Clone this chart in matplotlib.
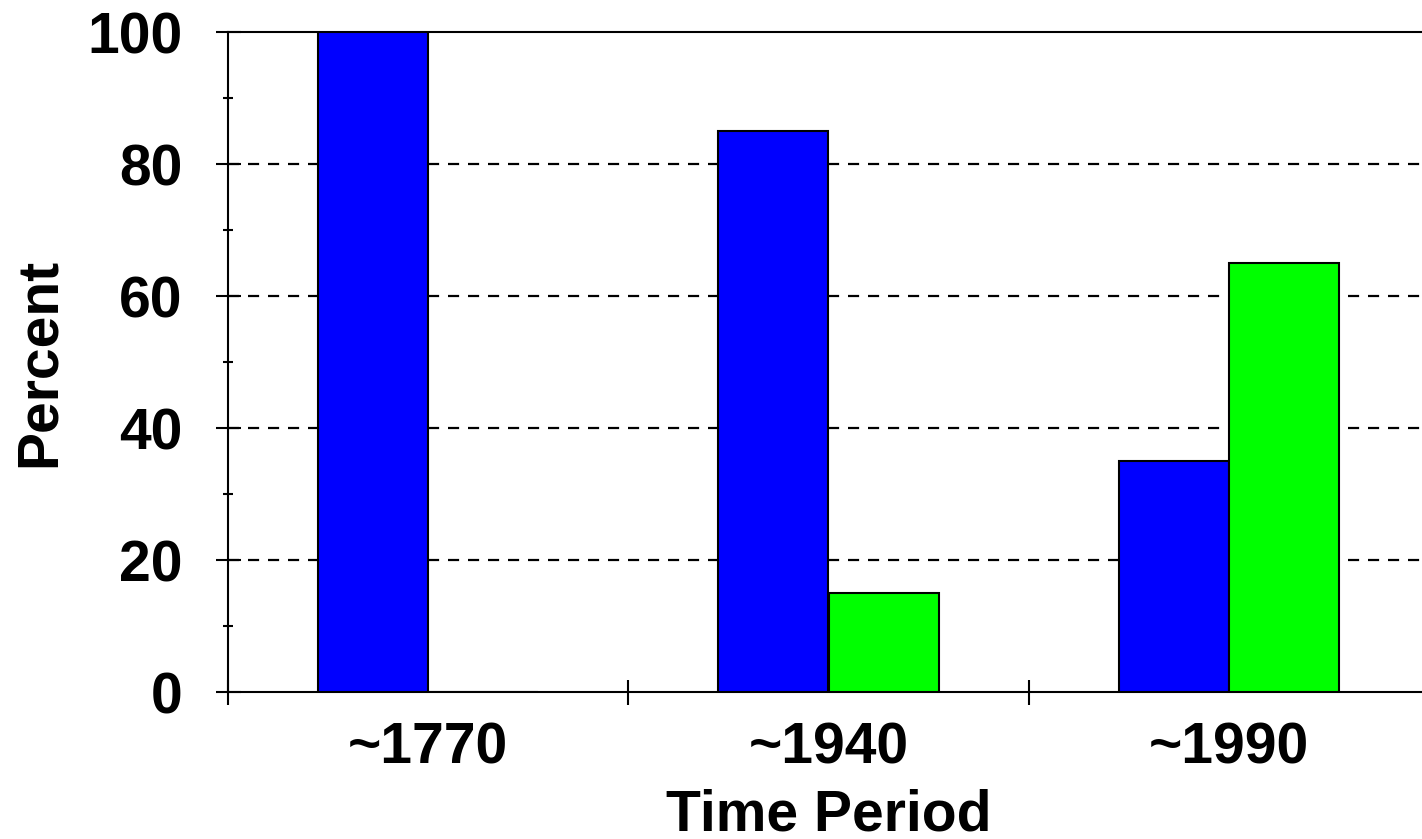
import matplotlib
matplotlib.use("Agg")
import matplotlib.pyplot as plt
import numpy as np
from matplotlib.ticker import MultipleLocator, FixedLocator

# data
periods = ["~1770", "~1940", "~1990"]
blue_vals = [100, 85, 35]
green_vals = [0, 15, 65]

plt.rcParams["font.family"] = ["Liberation Sans", "DejaVu Sans"]
plt.rcParams["font.weight"] = "bold"

fig = plt.figure(figsize=(14.22, 8.39), dpi=100)
ax = fig.add_axes([228 / 1422, 147 / 839, 1201 / 1422, 660 / 839])

x = np.arange(len(periods))
w = 0.275
ax.bar(x - w / 2, blue_vals, w, color="#0000ff", edgecolor="black", linewidth=1.5, zorder=3)
ax.bar(x + w / 2, green_vals, w, color="#00ff00", edgecolor="black", linewidth=1.5, zorder=3)

ax.set_xlim(-0.5, 2.5)
ax.set_ylim(0, 100)

# y axis ticks
ax.yaxis.set_major_locator(MultipleLocator(20))
ax.yaxis.set_minor_locator(MultipleLocator(10))
ax.tick_params(axis="y", which="major", direction="inout", length=18, width=1.5,
               labelsize=41, pad=24)
ax.tick_params(axis="y", which="minor", direction="inout", length=7, width=1.5)

# x axis: labels at centres, ticks at the boundaries
ax.set_xticks(x)
ax.set_xticklabels(periods)
ax.xaxis.set_minor_locator(FixedLocator([-0.5, 0.5, 1.5, 2.5]))
ax.tick_params(axis="x", which="major", length=0, labelsize=41, pad=21)
ax.tick_params(axis="x", which="minor", direction="inout", length=18, width=1.5)

for gy in [20, 40, 60, 80]:
    ax.axhline(gy, color="black", linestyle=(0, (5, 4)), linewidth=1.6, zorder=1)

for s in ["left", "bottom", "top"]:
    ax.spines[s].set_linewidth(1.5)
ax.spines["right"].set_visible(False)

ax.set_xlabel("Time Period", fontsize=41, fontweight="bold")
ax.set_ylabel("Percent", fontsize=41, fontweight="bold")
ax.xaxis.set_label_coords(0.5, -0.146)
ax.yaxis.set_label_coords(-0.134, 0.5)
ax.xaxis.label.set_va("top")

fig.savefig("out.png", dpi=100)
